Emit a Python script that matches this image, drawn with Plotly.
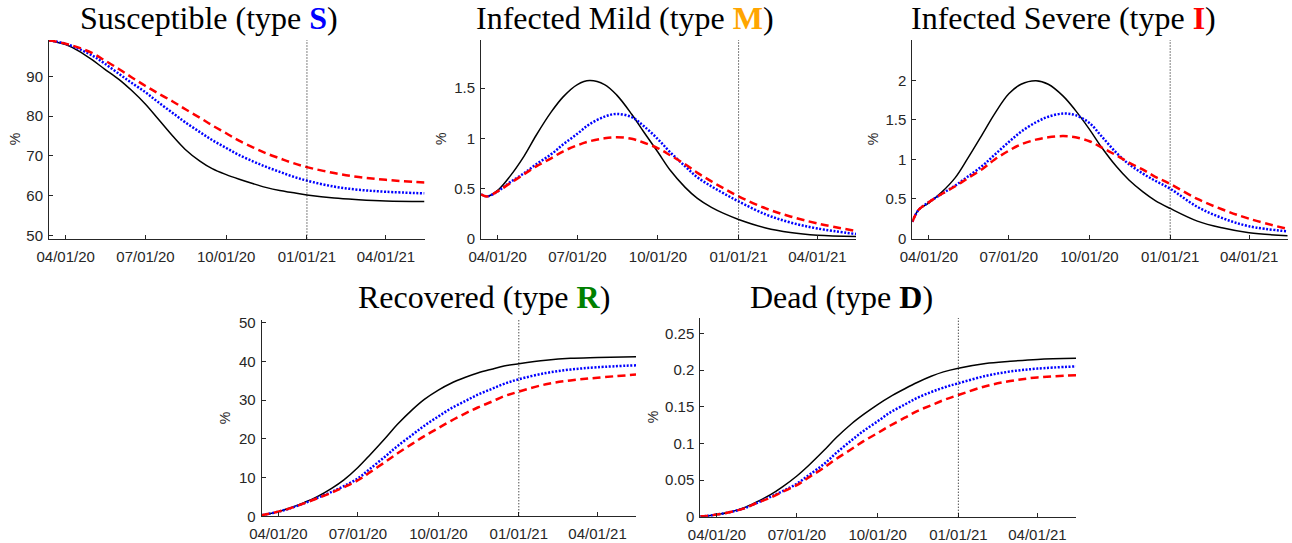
import plotly.graph_objects as go

W, H = 1292, 543

dates = ["2020-03-13", "2020-03-20", "2020-04-01", "2020-04-15", "2020-05-01", "2020-05-15",
         "2020-06-01", "2020-06-15", "2020-07-01", "2020-07-15", "2020-08-01", "2020-08-15",
         "2020-09-01", "2020-09-15", "2020-10-01", "2020-10-15", "2020-11-01", "2020-11-15",
         "2020-12-01", "2020-12-15", "2021-01-01", "2021-02-01", "2021-03-01", "2021-04-01",
         "2021-05-15"]

# Susceptible (%)
S_black = [99.0, 98.7, 98.0, 96.5, 94.2, 91.9, 89.2, 86.5, 83.0, 79.4, 75.0, 71.7,
           68.7, 66.8, 65.3, 64.2, 63.0, 62.1, 61.3, 60.8, 60.2, 59.4, 59.0, 58.7, 58.55]
S_blue = [99.0, 98.8, 98.2, 97.0, 95.3, 93.3, 90.6, 88.4, 86.0, 83.6, 80.8, 78.5,
          76.0, 74.0, 72.0, 70.3, 68.6, 67.3, 66.0, 64.9, 63.8, 62.3, 61.5, 61.0, 60.6]
S_red = [99.0, 98.8, 98.2, 97.3, 95.9, 94.1, 91.8, 89.8, 87.6, 85.8, 83.7, 81.8,
         79.6, 77.7, 75.7, 73.9, 72.1, 70.7, 69.4, 68.3, 67.2, 65.7, 64.7, 64.0, 63.3]

# Infected Mild (%)
M_black = [0.44, 0.42, 0.48, 0.62, 0.82, 1.03, 1.26, 1.415, 1.535, 1.575, 1.535, 1.43,
           1.24, 1.06, 0.86, 0.68, 0.51, 0.40, 0.31, 0.25, 0.19, 0.105, 0.06, 0.033, 0.02]
M_blue = [0.44, 0.42, 0.47, 0.56, 0.65, 0.74, 0.84, 0.94, 1.045, 1.14, 1.215, 1.243,
          1.21, 1.12, 0.99, 0.86, 0.72, 0.61, 0.52, 0.45, 0.37, 0.24, 0.16, 0.10, 0.045]
M_red = [0.44, 0.42, 0.47, 0.55, 0.64, 0.72, 0.80, 0.87, 0.93, 0.97, 1.00, 1.01,
         0.995, 0.955, 0.90, 0.83, 0.74, 0.655, 0.57, 0.50, 0.42, 0.30, 0.22, 0.15, 0.075]

# Infected Severe (%)
I_black = [0.21, 0.36, 0.45, 0.58, 0.77, 1.01, 1.32, 1.58, 1.83, 1.95, 1.995, 1.95,
           1.80, 1.62, 1.38, 1.15, 0.906, 0.74, 0.59, 0.48, 0.38, 0.22, 0.135, 0.072, 0.034]
I_blue = [0.21, 0.36, 0.46, 0.56, 0.67, 0.78, 0.92, 1.06, 1.22, 1.35, 1.47, 1.54,
          1.58, 1.56, 1.46, 1.29, 1.08, 0.94, 0.82, 0.73, 0.63, 0.40, 0.26, 0.155, 0.09]
I_red = [0.21, 0.36, 0.46, 0.56, 0.66, 0.76, 0.88, 1.00, 1.11, 1.19, 1.25, 1.28,
         1.295, 1.28, 1.23, 1.15, 1.05, 0.96, 0.87, 0.78, 0.69, 0.50, 0.37, 0.25, 0.12]

# Recovered (%)
R_black = [0.3, 0.6, 1.2, 2.2, 3.6, 5.0, 7.2, 9.4, 12.6, 15.9, 20.1, 23.7,
           27.5, 30.2, 32.6, 34.3, 35.9, 37.0, 38.0, 38.8, 39.4, 40.3, 40.8, 41.0, 41.2]
R_blue = [0.3, 0.6, 1.2, 2.1, 3.4, 4.7, 6.3, 7.8, 9.8, 12.3, 15.4, 18.1,
          21.0, 23.4, 25.8, 27.8, 29.8, 31.4, 32.9, 34.2, 35.4, 37.0, 37.9, 38.5, 39.0]
R_red = [0.3, 0.6, 1.2, 2.1, 3.4, 4.6, 6.1, 7.5, 9.3, 11.4, 14.0, 16.2,
         18.7, 20.7, 22.8, 24.6, 26.6, 28.1, 29.6, 31.0, 32.2, 34.1, 35.1, 35.8, 36.6]

# Dead (%)
D_black = [0.0005, 0.001, 0.003, 0.006, 0.012, 0.0195, 0.030, 0.041, 0.0555, 0.0705, 0.0905, 0.108,
           0.1265, 0.1395, 0.153, 0.1635, 0.1745, 0.183, 0.1915, 0.1975, 0.2025, 0.209, 0.212, 0.2145, 0.216]
D_blue = [0.0005, 0.001, 0.003, 0.006, 0.011, 0.018, 0.027, 0.035, 0.045, 0.057, 0.072, 0.087,
          0.104, 0.117, 0.130, 0.142, 0.153, 0.162, 0.170, 0.176, 0.182, 0.192, 0.198, 0.202, 0.205]
D_red = [0.0005, 0.001, 0.003, 0.006, 0.011, 0.018, 0.026, 0.034, 0.043, 0.054, 0.067, 0.079,
         0.092, 0.103, 0.114, 0.124, 0.135, 0.144, 0.152, 0.159, 0.166, 0.178, 0.185, 0.190, 0.193]

x_ticks = ["2020-04-01", "2020-07-01", "2020-10-01", "2021-01-01", "2021-04-01"]
x_range = ["2020-03-13", "2021-05-15"]
marker_date = "2021-01-01"

panels = [
    dict(title="Susceptible (type <span style='color:#0000FF'><b>S</b></span>)",
         series=(S_black, S_blue, S_red), yrange=[49.25, 99.15],
         yticks=[50, 60, 70, 80, 90], ytext=["50", "60", "70", "80", "90"],
         box=(49, 424.5, 40, 238.5), tpos=(209, 18.5), ylab=15),
    dict(title="Infected Mild (type <span style='color:#FFA500'><b>M</b></span>)",
         series=(M_black, M_blue, M_red), yrange=[0, 1.98],
         yticks=[0, 0.5, 1, 1.5], ytext=["0", "0.5", "1", "1.5"],
         box=(481, 856, 40, 238.5), tpos=(625, 18.5), ylab=441.7),
    dict(title="Infected Severe (type <span style='color:#FF0000'><b>I</b></span>)",
         series=(I_black, I_blue, I_red), yrange=[0, 2.51],
         yticks=[0, 0.5, 1, 1.5, 2], ytext=["0", "0.5", "1", "1.5", "2"],
         box=(912.3, 1287.7, 40, 238.5), tpos=(1063, 18.5), ylab=873),
    dict(title="Recovered (type <span style='color:#008000'><b>R</b></span>)",
         series=(R_black, R_blue, R_red), yrange=[0, 50.7],
         yticks=[0, 10, 20, 30, 40, 50], ytext=["0", "10", "20", "30", "40", "50"],
         box=(261.7, 636, 320, 516.3), tpos=(483.7, 296.5), ylab=225),
    dict(title="Dead (type <b>D</b>)",
         series=(D_black, D_blue, D_red), yrange=[0, 0.271],
         yticks=[0, 0.05, 0.1, 0.15, 0.2, 0.25], ytext=["0", "0.05", "0.1", "0.15", "0.2", "0.25"],
         box=(700.3, 1076, 318, 516.7), tpos=(841, 296.5), ylab=653),
]

styles = [
    dict(color="#000000", width=1.5, dash="solid"),
    dict(color="#0000FF", width=2.5, dash="2px,1.6px"),
    dict(color="#FF0000", width=2.5, dash="8px,4.5px"),
]

fig = go.Figure()
tick_font = dict(family="Liberation Sans, Arial, sans-serif", size=15, color="#262626")
annotations = []
shapes = []

for i, p in enumerate(panels):
    k = "" if i == 0 else str(i + 1)
    xa, ya = "x" + k, "y" + k
    for ser, st in zip(p["series"], styles):
        fig.add_trace(go.Scatter(x=dates, y=ser, mode="lines", xaxis=xa, yaxis=ya,
                                 line=dict(color=st["color"], width=st["width"], dash=st["dash"],
                                           shape="spline", smoothing=1.0),
                                 showlegend=False, hoverinfo="skip"))
    x0, x1, y0, y1 = p["box"]
    axis_common = dict(showline=True, linecolor="#262626", linewidth=1, ticks="inside",
                       ticklen=4, tickcolor="#262626", tickwidth=1, showgrid=False,
                       zeroline=False, tickfont=tick_font, automargin=False)
    fig.update_layout(**{
        "xaxis" + k: dict(domain=[x0 / W, x1 / W], range=x_range, type="date",
                          tickvals=x_ticks, tickformat="%m/%d/%y", anchor=ya,
                          ticklabelstandoff=4, **axis_common),
        "yaxis" + k: dict(domain=[1 - y1 / H, 1 - y0 / H], range=p["yrange"],
                          tickvals=p["yticks"], ticktext=p["ytext"], anchor=xa,
                          ticklabelstandoff=2, **axis_common),
    })
    shapes.append(dict(type="line", xref=xa, yref=ya + " domain", x0=marker_date, x1=marker_date,
                       y0=0, y1=1, line=dict(color="#000000", width=1, dash="1px,2px")))
    annotations.append(dict(text=p["title"], xref="paper", yref="paper",
                            x=p["tpos"][0] / W, y=1 - p["tpos"][1] / H,
                            xanchor="center", yanchor="middle", showarrow=False,
                            font=dict(family="Liberation Serif, Times New Roman, serif",
                                      size=32, color="#000000")))
    annotations.append(dict(text="%", xref="paper", yref="paper",
                            x=p["ylab"] / W, y=1 - ((y0 + y1) / 2) / H,
                            xanchor="center", yanchor="middle", showarrow=False, textangle=-90,
                            font=dict(family="Liberation Sans, Arial, sans-serif", size=14,
                                      color="#262626")))

fig.update_layout(width=W, height=H, margin=dict(l=0, r=0, t=0, b=0),
                  paper_bgcolor="white", plot_bgcolor="white",
                  annotations=annotations, shapes=shapes, showlegend=False)

fig.write_html("out.html")
